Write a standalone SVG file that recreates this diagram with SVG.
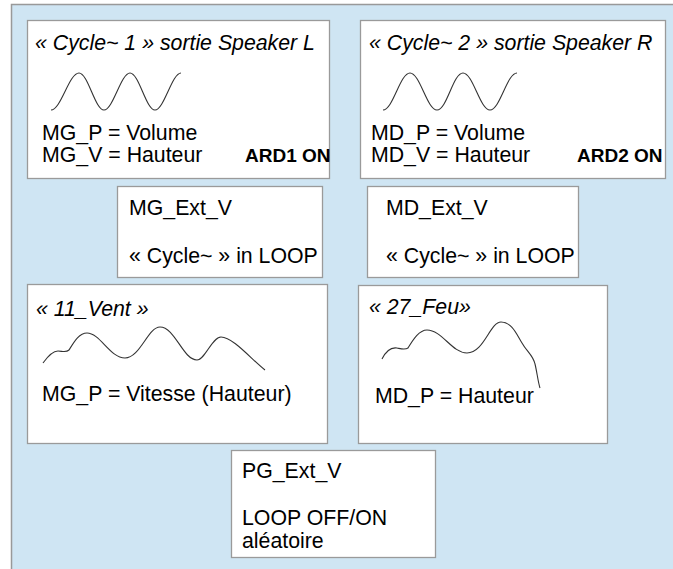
<svg xmlns="http://www.w3.org/2000/svg" width="673" height="569" viewBox="0 0 673 569">
<style>
.box{fill:#ffffff;stroke:#9a9a9a;stroke-width:1.3}
.t{font-family:"Liberation Sans",Arial,sans-serif;font-size:21.3px;fill:#000}
.i{font-style:italic}
.b{font-weight:bold;font-size:19px}
.w{fill:none;stroke:#333;stroke-width:1.1}
</style>
<rect x="0" y="0" width="673" height="569" fill="#ffffff"/>
<rect id="background" x="11.5" y="4.5" width="670" height="570" fill="#cfe5f3" stroke="#999" stroke-width="1.5"/>
<g id="connectors"/>
<g id="cycle1">
<rect class="box" x="27.5" y="20.5" width="302" height="158"/>
<text class="t i" x="35" y="50">« Cycle~ 1 » sortie Speaker L</text>
<path class="w" d="M51,110 C61,110 69,73 79,73 C88,73 95,110 104,110 C113,110 121,73 130,73 C139,73 146,110 155,110 C164,110 172,73 181,73"/>
<text class="t" x="42" y="140">MG_P = Volume</text>
<text class="t" x="42" y="162">MG_V = Hauteur</text>
<text class="t b" x="245" y="162">ARD1 ON</text>
</g>
<g id="cycle2">
<rect class="box" x="360.5" y="20.5" width="305" height="158"/>
<text class="t i" x="369" y="50">« Cycle~ 2 » sortie Speaker R</text>
<path class="w" d="M383,110 C393,110 400,73 410,73 C420,73 427,110 437,110 C447,110 453,73 463,73 C473,73 480,110 490,110 C500,110 507,73 517,73"/>
<text class="t" x="371" y="140">MD_P = Volume</text>
<text class="t" x="371" y="162">MD_V = Hauteur</text>
<text class="t b" x="577" y="162">ARD2 ON</text>
</g>
<g id="mg_ext_v">
<rect class="box" x="117.5" y="186.5" width="205" height="91"/>
<text class="t" x="129" y="215">MG_Ext_V</text>
<text class="t" x="129" y="263">« Cycle~ » in LOOP</text>
</g>
<g id="md_ext_v">
<rect class="box" x="367.5" y="186.5" width="211" height="91"/>
<text class="t" x="386" y="215">MD_Ext_V</text>
<text class="t" x="386" y="263">« Cycle~ » in LOOP</text>
</g>
<g id="vent">
<rect class="box" x="27.5" y="284.5" width="300" height="159"/>
<text class="t i" x="36" y="316">« 11_Vent »</text>
<path class="w" d="M43,363 C48,356 53,351 58,351 C62,351 66,353 69,350 C74,342 79,333 87,333 C100,333 110,358 125,358 C140,358 148,327 160,327 C175,327 183,360 197,360 C205,360 212,337 221,337 C233,337 252,360 265,370"/>
<text class="t" x="42" y="401">MG_P = Vitesse (Hauteur)</text>
</g>
<g id="feu">
<rect class="box" x="358.5" y="285.5" width="249" height="158"/>
<text class="t i" x="369" y="314">« 27_Feu»</text>
<path class="w" d="M382,359 C386,351 391,347 397,348 C402,349 405,350 408,348 C413,340 419,330 427,330 C442,330 452,353 467,353 C484,353 490,322 501,322 C512,322 517,335 522,343 C527,352 533,355 535,364 C537,372 538,382 540,388"/>
<text class="t" x="375" y="403">MD_P = Hauteur</text>
</g>
<g id="pg_ext_v">
<rect class="box" x="231.5" y="450.5" width="204" height="107"/>
<text class="t" x="242" y="478">PG_Ext_V</text>
<text class="t" x="242" y="525">LOOP OFF/ON</text>
<text class="t" x="242" y="548">aléatoire</text>
</g>
</svg>
